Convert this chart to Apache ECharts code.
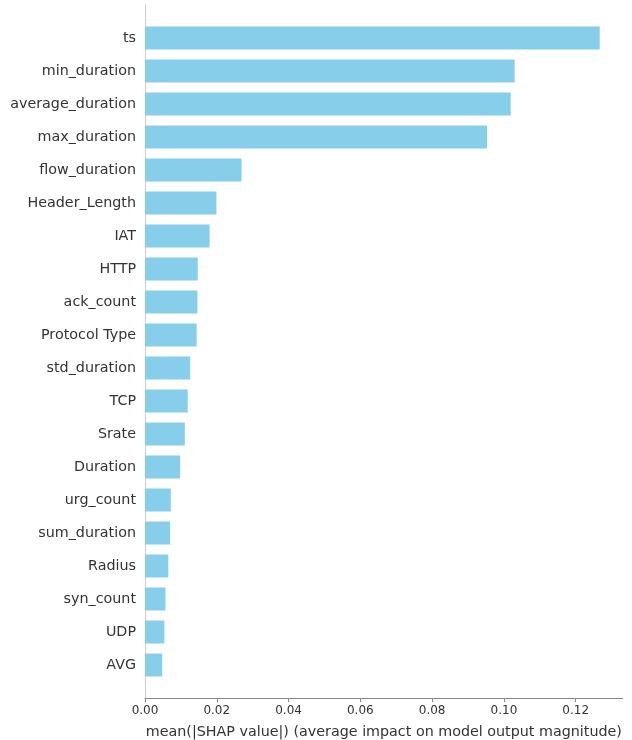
<!DOCTYPE html>
<html>
<head>
<meta charset="utf-8">
<script src="https://cdn.jsdelivr.net/npm/echarts@6/dist/echarts.min.js"></script>
<style>
html,body{margin:0;padding:0;background:#fff;}
#chart{width:632px;height:740px;}
</style>
</head>
<body>
<div id="chart"></div>
<script>
const features = ['ts','min_duration','average_duration','max_duration','flow_duration','Header_Length','IAT','HTTP','ack_count','Protocol Type','std_duration','TCP','Srate','Duration','urg_count','sum_duration','Radius','syn_count','UDP','AVG'];
const shapValues = [0.1267,0.1030,0.1019,0.0953,0.0269,0.0199,0.0180,0.0147,0.0146,0.0144,0.0126,0.0119,0.0111,0.0098,0.0072,0.0070,0.0065,0.0057,0.0054,0.0048];
const xTicks = [0,0.02,0.04,0.06,0.08,0.10,0.12];
const xMax = 0.1331;
const xLabel = 'mean(|SHAP value|) (average impact on model output magnitude)';

// pad one empty slot above and below (matplotlib y-limits)
const cats = [''].concat(features, ['']);
const vals = [null].concat(shapValues, [null]);

const chart = echarts.init(document.getElementById('chart'));
chart.setOption({
  animation: false,
  backgroundColor: '#fff',
  textStyle: {fontFamily: 'DejaVu Sans'},
  grid: {left: 145, right: 9.3, top: 5, bottom: 42, containLabel: false, outerBoundsMode: 'none'},
  xAxis: {
    type: 'value', min: 0, max: xMax,
    splitLine: {show: false},
    axisLine: {show: true, lineStyle: {color: '#888', width: 1}},
    axisTick: {show: true, length: 4, lineStyle: {color: '#888'}, customValues: xTicks},
    axisLabel: {fontSize: 12, color: '#333', margin: 7, customValues: xTicks,
      formatter: v => v.toFixed(2)},
    name: xLabel, nameLocation: 'middle', nameGap: 27,
    nameTextStyle: {fontSize: 14.3, color: '#333'}
  },
  yAxis: {
    type: 'category', inverse: true, boundaryGap: false, data: cats,
    axisLine: {show: true, lineStyle: {color: '#ccc', width: 1}},
    axisTick: {show: false},
    splitLine: {show: false},
    axisLabel: {fontSize: 14.3, color: '#333', margin: 9, interval: 0}
  },
  series: [{
    type: 'bar', data: vals, barWidth: 23,
    itemStyle: {color: '#87CEEB'}
  }]
});
</script>
</body>
</html>
